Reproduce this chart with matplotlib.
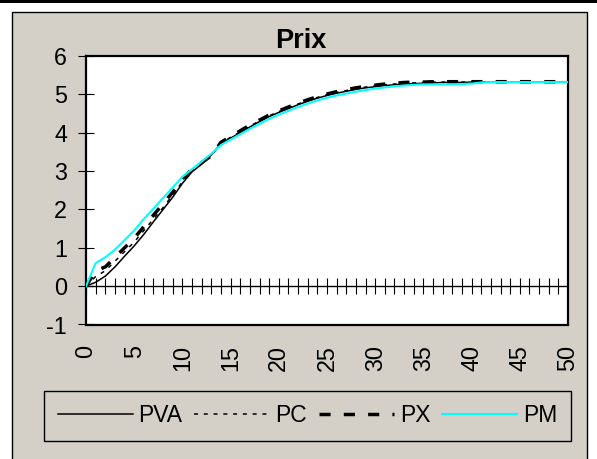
import matplotlib
matplotlib.use("Agg")
import matplotlib.pyplot as plt
from matplotlib.patches import Rectangle

plt.rcParams['font.family'] = ['Liberation Sans', 'DejaVu Sans']

t = list(range(0, 51))

PVA = [0.00, 0.10, 0.26, 0.50, 0.78, 1.05, 1.35, 1.68, 2.00, 2.32, 2.68, 2.98, 3.18, 3.42, 3.72, 3.86, 4.00, 4.15, 4.29, 4.42, 4.53, 4.63, 4.73, 4.82, 4.90, 4.97, 5.03, 5.08, 5.13, 5.17, 5.20, 5.23, 5.25, 5.27, 5.28, 5.29, 5.30, 5.31, 5.31, 5.31, 5.32, 5.32, 5.32, 5.32, 5.32, 5.32, 5.32, 5.32, 5.32, 5.32, 5.32]
PC = [0.00, 0.25, 0.40, 0.65, 0.90, 1.15, 1.45, 1.75, 2.05, 2.38, 2.72, 3.00, 3.20, 3.40, 3.73, 3.88, 4.02, 4.17, 4.31, 4.44, 4.55, 4.65, 4.75, 4.84, 4.92, 4.99, 5.05, 5.10, 5.15, 5.19, 5.22, 5.25, 5.27, 5.29, 5.30, 5.31, 5.32, 5.32, 5.32, 5.32, 5.32, 5.32, 5.32, 5.32, 5.32, 5.32, 5.32, 5.32, 5.32, 5.32, 5.32]
PX = [0.00, 0.40, 0.50, 0.75, 1.00, 1.25, 1.55, 1.85, 2.15, 2.45, 2.80, 3.05, 3.22, 3.40, 3.75, 3.90, 4.05, 4.20, 4.33, 4.46, 4.57, 4.67, 4.77, 4.86, 4.94, 5.01, 5.07, 5.12, 5.17, 5.21, 5.24, 5.27, 5.29, 5.31, 5.32, 5.32, 5.33, 5.33, 5.33, 5.33, 5.33, 5.33, 5.33, 5.33, 5.33, 5.33, 5.33, 5.33, 5.33, 5.33, 5.33]
PM = [0.00, 0.60, 0.75, 0.95, 1.20, 1.45, 1.75, 2.02, 2.30, 2.57, 2.85, 3.05, 3.25, 3.45, 3.68, 3.82, 3.96, 4.10, 4.23, 4.36, 4.47, 4.57, 4.67, 4.76, 4.84, 4.91, 4.97, 5.02, 5.07, 5.11, 5.15, 5.18, 5.21, 5.23, 5.25, 5.26, 5.26, 5.26, 5.26, 5.27, 5.28, 5.31, 5.32, 5.32, 5.32, 5.32, 5.32, 5.32, 5.32, 5.32, 5.32]

series_names = ['PVA', 'PC', 'PX', 'PM']
x_ticks = list(range(0, 51, 5))
y_ticks = list(range(-1, 7))

W, H = 597, 459
GRAY = '#D4D0C8'
FS = 16.8

fig = plt.figure(figsize=(W / 100, H / 100), dpi=100, facecolor='white')

# chart area background
fig.patches.append(Rectangle((12 / W, -0.01), 575 / W, 1 - 12 / H + 0.01,
                             transform=fig.transFigure, facecolor=GRAY,
                             edgecolor='black', linewidth=1.0, zorder=-5))
# top black strip
fig.patches.append(Rectangle((0, 1 - 2.5 / H), 1, 2.5 / H,
                             transform=fig.transFigure, facecolor='black',
                             edgecolor='none', zorder=-5))

ax = fig.add_axes([86 / W, 1 - 324.5 / H, (568 - 86) / W, (324.5 - 56) / H])
ax.set_zorder(2)
ax.set_facecolor('white')
ax.set_xlim(0, 50)
ax.set_ylim(-1, 6)

for s in ax.spines.values():
    s.set_color('black')
    s.set_linewidth(1.6)

ax.set_yticks(y_ticks)
ax.set_yticklabels([str(v) for v in y_ticks])
ax.tick_params(axis='y', direction='inout', length=11.5, width=0.8,
               labelsize=FS, pad=8)
ax.set_xticks(x_ticks)
ax.set_xticklabels([str(v) for v in x_ticks], rotation=90)
ax.tick_params(axis='x', length=0, labelsize=FS, pad=14.5)

# category axis crossing at y=0 with crossing ticks
ax.axhline(0, color='black', linewidth=1.0, zorder=2)
ax.vlines(t, -0.21, 0.21, color='black', linewidth=0.8, zorder=2)

l1, = ax.plot(t, PVA, color='black', linewidth=1.1, label='PVA', zorder=3)
l2, = ax.plot(t, PC, color='black', linewidth=1.1, label='PC', zorder=3)
l2.set_dashes((2.6, 3.8))
l3, = ax.plot(t, PX, color='black', linewidth=2.5, label='PX', zorder=3)
l3.set_dashes((3.2, 3.8))
l4, = ax.plot(t, PM, color='#00FFFF', linewidth=1.5, label='PM', zorder=4)

fig.text(300.5 / W, 1 - 48.3 / H, 'Prix', ha='center', va='baseline',
         fontsize=19.5, fontweight='bold')

leg = fig.legend([l1, l2, l3, l4], series_names, loc='center',
                 bbox_to_anchor=(307.5 / W, 1 - 416 / H), ncol=4,
                 fontsize=16.5, frameon=True, fancybox=False,
                 edgecolor='black', facecolor=GRAY, framealpha=1,
                 handlelength=3.27, handletextpad=0.26, columnspacing=0.52,
                 borderpad=0.6, borderaxespad=0)
leg.get_frame().set_linewidth(1.0)

fig.savefig('out.png', dpi=100, facecolor='white')
